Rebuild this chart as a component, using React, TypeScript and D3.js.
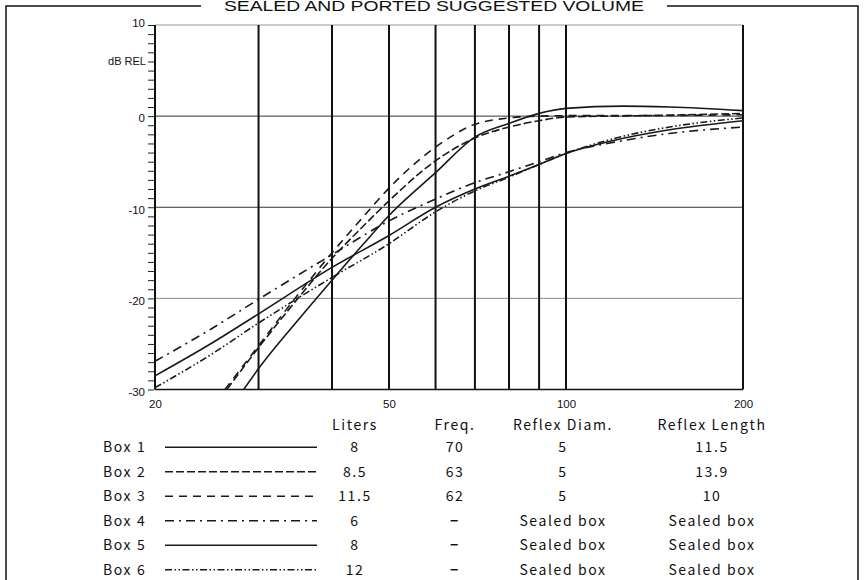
import React, { useEffect, useRef } from 'react';
import * as d3 from 'd3';

// response curves (Hz / dB rel)
const box1Freq = [28.3, 30, 35, 40, 45, 50, 60, 70, 80, 90, 100, 125, 150, 200];
const box1Db = [-30, -27.7, -22.4, -18.0, -14.2, -10.9, -6.2, -2.3, -0.8, 0.3, 0.85, 1.1, 1.0, 0.6];

const box2Freq = [26.5, 30, 35, 40, 45, 50, 60, 70, 80, 90, 100, 150, 200];
const box2Db = [-30, -25.4, -20.0, -15.6, -12.2, -9.3, -4.9, -2.4, -1.2, -0.5, -0.1, 0.1, 0.3];

const box3Freq = [26.3, 30, 35, 40, 45, 50, 60, 70, 80, 90, 100, 150, 200];
const box3Db = [-30, -25.2, -19.6, -15.0, -11.2, -7.9, -3.4, -0.9, -0.2, 0, 0.05, 0.08, 0.15];

const sealedFreq = [20, 25, 30, 40, 50, 60, 70, 80, 90, 100, 120, 150, 200];
const box4Db = [-26.9, -23.3, -20.1, -15.2, -11.5, -9.1, -7.3, -6.1, -5.0, -4.0, -2.9, -1.9, -1.2];
const box5Db = [-28.5, -24.9, -21.7, -16.6, -13.1, -10.0, -8.0, -6.6, -5.3, -4.1, -2.7, -1.5, -0.5];
const box6Db = [-29.8, -26.1, -22.7, -17.7, -14.0, -10.5, -8.2, -6.7, -5.3, -4.1, -2.5, -1.2, -0.2];

// table
const boxNames = ['Box 1', 'Box 2', 'Box 3', 'Box 4', 'Box 5', 'Box 6'];
const columnHeaders = ['Liters', 'Freq.', 'Reflex Diam.', 'Reflex Length'];
const liters = ['8', '8.5', '11.5', '6', '8', '12'];
const tuning = ['70', '63', '62', '−', '−', '−'];
const reflexDiam = ['5', '5', '5', 'Sealed box', 'Sealed box', 'Sealed box'];
const reflexLength = ['11.5', '13.9', '10', 'Sealed box', 'Sealed box', 'Sealed box'];

// axes
const xTicks = [20, 50, 100, 200];
const freqLines = [30, 40, 50, 60, 70, 80, 90, 100];
const gridDb = [0, -10, -20];

const dashes = ['none', '8,3', '8,6', '9,5,2,5', 'none', '7,2.5,1.5,2.5,1.5,2.5'];

const App = () => {
  const svgRef = useRef(null);

  useEffect(() => {
    const svg = d3.select(svgRef.current);
    svg.selectAll('*').remove();

    const x = d3.scaleLog().domain([20, 200]).range([155, 743]);
    const y = d3.scaleLinear().domain([-30, 10]).range([389.5, 25]);

    const series = [
      box1Freq.map((f, i) => [f, box1Db[i]]),
      box2Freq.map((f, i) => [f, box2Db[i]]),
      box3Freq.map((f, i) => [f, box3Db[i]]),
      sealedFreq.map((f, i) => [f, box4Db[i]]),
      sealedFreq.map((f, i) => [f, box5Db[i]]),
      sealedFreq.map((f, i) => [f, box6Db[i]]),
    ];

    // outer frame with title gap
    svg.append('path')
      .attr('d', 'M201,6H6V580M667,6H858V580')
      .attr('fill', 'none')
      .attr('stroke', '#111')
      .attr('stroke-width', 1.5);

    svg.append('text')
      .attr('x', 434)
      .attr('y', 11)
      .attr('text-anchor', 'middle')
      .attr('textLength', 420)
      .attr('lengthAdjust', 'spacingAndGlyphs')
      .style('font-family', '"Liberation Sans Narrow", "Liberation Sans", Arial, sans-serif')
      .style('font-size', '14.5px')
      .style('fill', '#111')
      .text('SEALED AND PORTED SUGGESTED VOLUME');

    const g = svg.append('g');

    // horizontal grid
    g.selectAll('line.hgrid')
      .data(gridDb)
      .enter()
      .append('line')
      .attr('x1', x(20)).attr('x2', x(200))
      .attr('y1', d => y(d)).attr('y2', d => y(d))
      .attr('stroke', d => d === -20 ? '#8a8a8a' : '#333')
      .attr('stroke-width', 1);

    g.append('line')
      .attr('x1', x(20)).attr('x2', x(200))
      .attr('y1', y(10)).attr('y2', y(10))
      .attr('stroke', '#9a9a9a').attr('stroke-width', 1);

    g.append('line')
      .attr('x1', x(20)).attr('x2', x(200))
      .attr('y1', y(-30)).attr('y2', y(-30))
      .attr('stroke', '#111').attr('stroke-width', 1.5);

    // vertical frequency lines
    g.selectAll('line.vgrid')
      .data(freqLines.concat([20, 200]))
      .enter()
      .append('line')
      .attr('x1', d => x(d)).attr('x2', d => x(d))
      .attr('y1', y(10)).attr('y2', y(-30))
      .attr('stroke', '#111')
      .attr('stroke-width', 2);

    // y axis ticks + labels
    const yAxis = g.append('g')
      .attr('transform', `translate(${x(20) - 1},0)`)
      .call(d3.axisLeft(y)
        .tickValues(d3.range(-30, 11, 1))
        .tickSize(6)
        .tickPadding(3)
        .tickFormat(d => (d % 10 === 0 ? String(d) : '')));
    yAxis.select('.domain').remove();
    yAxis.selectAll('line').attr('stroke', '#222').attr('stroke-width', 1);
    yAxis.selectAll('text')
      .attr('dy', d => (d === 10 ? '0.1em' : '0.5em'))
      .style('font-family', '"Liberation Sans", Arial, sans-serif')
      .style('font-size', '11.5px')
      .style('fill', '#111');

    g.append('text')
      .attr('x', x(20) - 9)
      .attr('y', y(6))
      .attr('dy', '0.35em')
      .attr('text-anchor', 'end')
      .style('font-family', '"Liberation Sans", Arial, sans-serif')
      .style('font-size', '11px')
      .style('fill', '#111')
      .text('dB REL');

    // x axis labels
    const xAxis = g.append('g')
      .attr('transform', `translate(0,${y(-30)})`)
      .call(d3.axisBottom(x)
        .tickValues(xTicks)
        .tickSize(0)
        .tickPadding(10)
        .tickFormat(d3.format('d')));
    xAxis.select('.domain').remove();
    xAxis.selectAll('text')
      .style('font-family', '"Liberation Sans", Arial, sans-serif')
      .style('font-size', '11.5px')
      .style('fill', '#111');

    // curves
    svg.append('clipPath')
      .attr('id', 'plot-clip')
      .append('rect')
      .attr('x', x(20)).attr('y', y(10))
      .attr('width', x(200) - x(20))
      .attr('height', y(-30) - y(10));

    const line = d3.line()
      .x(d => x(d[0]))
      .y(d => y(d[1]))
      .curve(d3.curveMonotoneX);

    g.append('g')
      .attr('clip-path', 'url(#plot-clip)')
      .selectAll('path')
      .data(series)
      .enter()
      .append('path')
      .attr('d', line)
      .attr('fill', 'none')
      .attr('stroke', '#1a1a1a')
      .attr('stroke-width', 1.6)
      .attr('stroke-dasharray', (d, i) => dashes[i]);

    // table
    const rowY = d3.scaleBand().domain(boxNames).range([435, 582]);
    const colPos = [355, 455, 563, 712];
    const tableFont = '"Noto Sans CJK JP", "Noto Sans", sans-serif';
    const rowMid = name => rowY(name) + rowY.bandwidth() / 2;

    const t = svg.append('g')
      .style('font-family', tableFont)
      .style('font-size', '14px')
      .style('letter-spacing', '1.6px')
      .style('fill', '#111');

    t.selectAll('text.head')
      .data(columnHeaders)
      .enter()
      .append('text')
      .attr('x', (d, i) => colPos[i])
      .attr('y', 425)
      .attr('dy', '0.36em')
      .attr('text-anchor', 'middle')
      .text(d => d);

    t.selectAll('text.name')
      .data(boxNames)
      .enter()
      .append('text')
      .attr('x', 103)
      .attr('y', d => rowMid(d))
      .attr('dy', '0.36em')
      .text(d => d);

    t.selectAll('line.key')
      .data(boxNames)
      .enter()
      .append('line')
      .attr('x1', 165).attr('x2', 317)
      .attr('y1', d => rowMid(d))
      .attr('y2', d => rowMid(d))
      .attr('stroke', '#1a1a1a')
      .attr('stroke-width', 1.6)
      .attr('stroke-dasharray', (d, i) => dashes[i]);

    [liters, tuning, reflexDiam, reflexLength].forEach((col, ci) => {
      t.selectAll(`text.c${ci}`)
        .data(col)
        .enter()
        .append('text')
        .attr('x', colPos[ci])
        .attr('y', (d, i) => rowMid(boxNames[i]))
        .attr('dy', '0.36em')
        .attr('text-anchor', 'middle')
        .style('font-weight', d => (d === '−' ? '700' : null))
        .text(d => d);
    });
  }, []);

  return (
    <svg
      ref={svgRef}
      width={864}
      height={580}
      style={{ position: 'absolute', left: 0, top: 0, background: '#fff' }}
    />
  );
};

export default App;
